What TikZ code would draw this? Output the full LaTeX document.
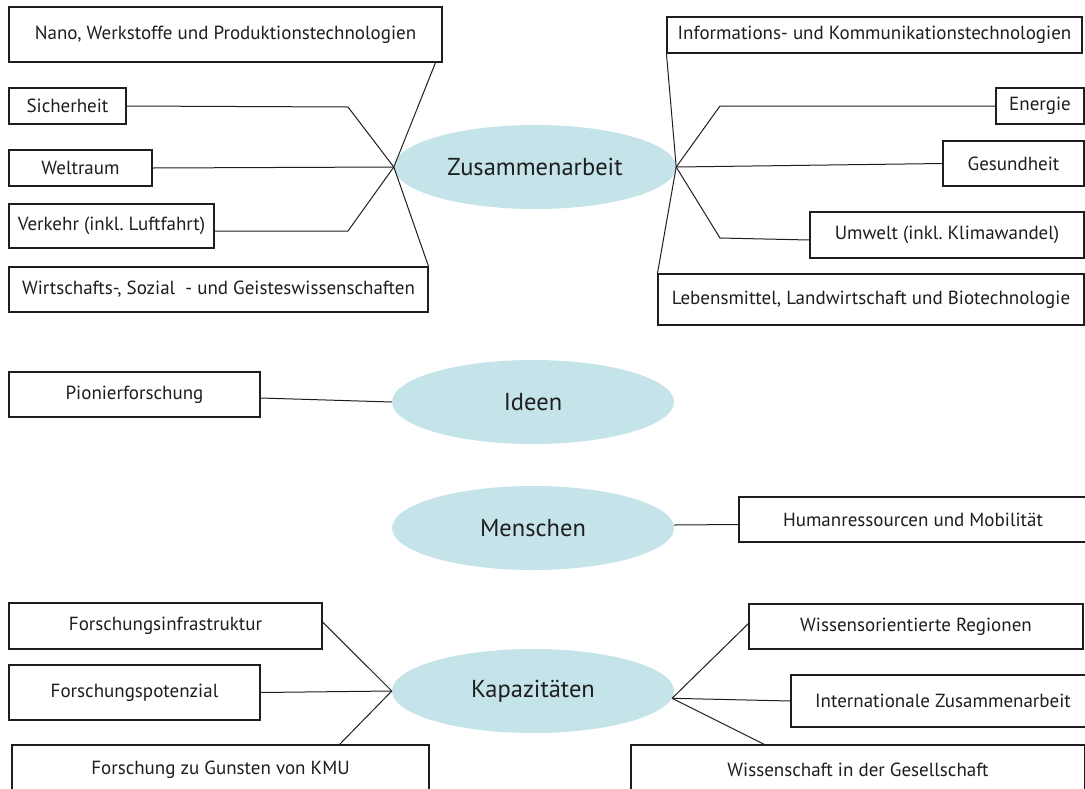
\documentclass[tikz,border=0pt]{standalone}
\usepackage{fontspec}
\setmainfont{PT Sans}
\usetikzlibrary{shapes.geometric}
\frenchspacing
\definecolor{ellfill}{HTML}{C5E4EA}
\definecolor{ink}{HTML}{1E1E1E}
\tikzset{
  box/.style={draw=ink, line width=1.1pt, fill=white, inner sep=0pt, text=ink, font=\fontsize{19}{22}\selectfont},
  bubble/.style={ellipse, fill=ellfill, inner sep=0pt, minimum width=282pt, minimum height=84pt, text=ink, font=\fontsize{24.5}{28}\selectfont},
  conn/.style={draw=ink, line width=1pt},
}
\begin{document}
\begin{tikzpicture}[x=1pt,y=-1pt]
\useasboundingbox (0,0) rectangle (1085,788);
\clip (0,0) rectangle (1085,788);
% bubbles
\node[bubble] (zus) at (535,167) {Zusammenarbeit};
\node[bubble] (ide) at (533,402) {Ideen};
\node[bubble] (men) at (533,528) {Menschen};
\node[bubble] (kap) at (533,691) {Kapazitäten};
% left top boxes
\node[box, minimum width=433pt, minimum height=55pt] (nano) at (225.5,34.5) {Nano, Werkstoffe und Produktionstechnologien};
\node[box, minimum width=117pt, minimum height=36pt] (sich) at (67.5,106) {Sicherheit};
\node[box, minimum width=143pt, minimum height=36pt] (welt) at (80.5,168) {Weltraum};
\node[box, minimum width=205pt, minimum height=44pt] (verk) at (111.5,226) {Verkehr (inkl. Luftfahrt)};
\node[box, minimum width=419pt, minimum height=45pt] (wirt) at (218.5,289.5) {Wirtschafts-, Sozial\ \ - und Geisteswissenschaften};
% right top boxes
\node[box, minimum width=415pt, minimum height=36pt] (info) at (874.5,35) {Informations- und Kommunikationstechnologien};
\node[box, minimum width=88pt, minimum height=36pt] (ener) at (1040,106) {Energie};
\node[box, minimum width=141pt, minimum height=45pt] (gesu) at (1013.5,163.5) {Gesundheit};
\node[box, minimum width=274pt, minimum height=46pt] (umw) at (947,235) {Umwelt (inkl. Klimawandel)};
\node[box, minimum width=426pt, minimum height=51pt] (leb) at (871,299.5) {Lebensmittel, Landwirtschaft und Biotechnologie};
% middle
\node[box, minimum width=251pt, minimum height=45pt] (pion) at (134.5,394.5) {Pionierforschung};
\node[box, minimum width=348pt, minimum height=45pt] (hum) at (913,519.5) {Humanressourcen und Mobilität};
% bottom
\node[box, minimum width=313pt, minimum height=46pt] (finf) at (165.5,626) {Forschungsinfrastruktur};
\node[box, minimum width=251pt, minimum height=55pt] (fpot) at (134.5,692.5) {Forschungspotenzial};
\node[box, minimum width=417pt, minimum height=50pt] (kmu) at (220.5,770) {Forschung zu Gunsten von KMU};
\node[box, minimum width=334pt, minimum height=45pt] (wiss) at (916,626.5) {Wissensorientierte Regionen};
\node[box, minimum width=304pt, minimum height=52pt] (intl) at (943,701) {Internationale Zusammenarbeit};
\node[box, minimum width=454pt, minimum height=50pt] (wges) at (858,770) {Wissenschaft in der Gesellschaft};
% bend points
\coordinate (sichB) at (348,107);
\coordinate (verkB) at (348,231);
\coordinate (enerB) at (720,106);
\coordinate (umwB) at (720,238);
% connectors Zusammenarbeit
\draw[conn] ([xshift=-7pt]nano.south east) -- (zus.west);
\draw[conn] (sich.east) -- (sichB) -- (zus.west);
\draw[conn] (welt.east) -- (zus.west);
\draw[conn] ([yshift=-5pt]verk.east) -- (verkB) -- (zus.west);
\draw[conn] (zus.west) -- (wirt.north east);
\draw[conn] (info.south west) -- (zus.east);
\draw[conn] (zus.east) -- (enerB) -- (ener.west);
\draw[conn] (zus.east) -- (gesu.west);
\draw[conn] (zus.east) -- (umwB) -- ([yshift=-5pt]umw.west);
\draw[conn] (zus.east) -- (leb.north west);
% Ideen, Menschen
\draw[conn] ([yshift=-3.5pt]pion.east) -- (ide.west);
\draw[conn] ([yshift=3pt]men.east) -- ([yshift=-5pt]hum.west);
% Kapazitaeten
\draw[conn] ([yshift=4pt]finf.east) -- (kap.west);
\draw[conn] (fpot.east) -- (kap.west);
\draw[conn] (kap.west) -- ([xshift=-90pt]kmu.north east);
\draw[conn] (kap.-3) -- ([yshift=3pt]wiss.west);
\draw[conn] (kap.-3) -- (intl.west);
\draw[conn] (kap.-3) -- ([xshift=134pt]wges.north west);
\end{tikzpicture}
\end{document}
